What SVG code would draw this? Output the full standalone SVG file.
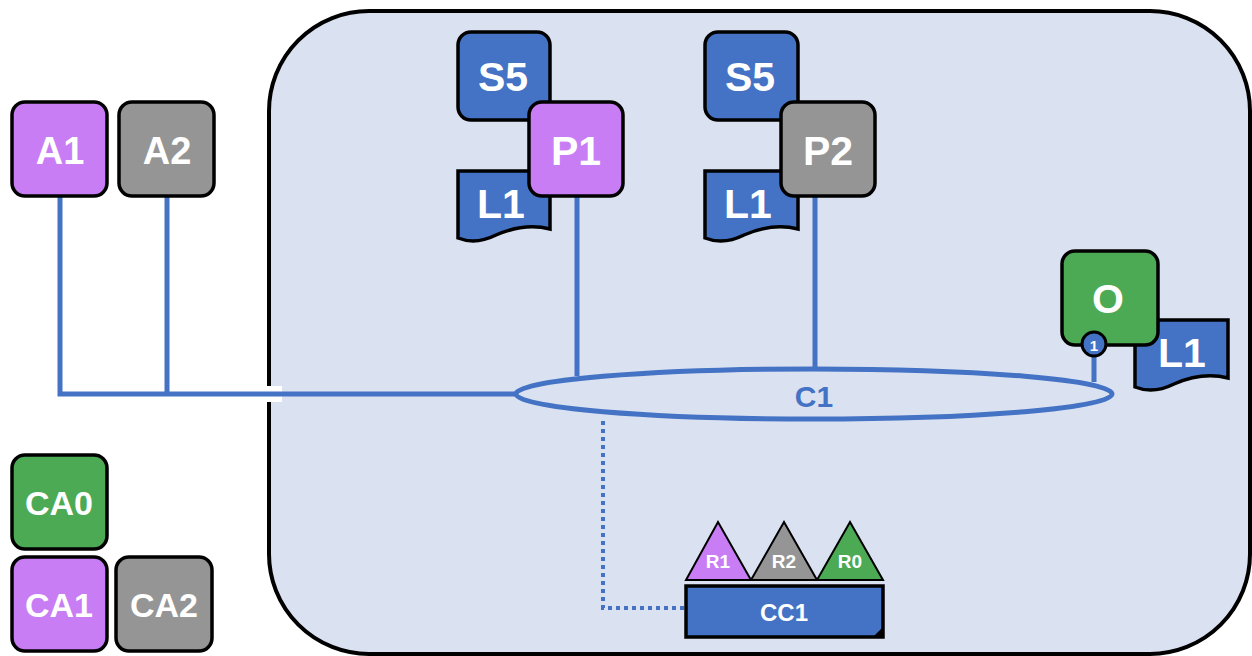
<svg xmlns="http://www.w3.org/2000/svg" width="1252" height="656" viewBox="0 0 1252 656">
<defs>
<style>
.box{stroke:#000;stroke-width:3.5}
.pur{fill:#C87DF5}
.gry{fill:#959595}
.grn{fill:#4CAA55}
.blu{fill:#4472C4}
.lbl{font-family:"Liberation Sans",Arial,sans-serif;font-weight:bold;fill:#fff;text-anchor:middle;dominant-baseline:central}
.wire{stroke:#4472C4;stroke-width:5;fill:none}
</style>
</defs>
<rect width="1252" height="656" fill="#fff"/>
<rect id="container" x="269" y="11" width="981" height="643" rx="100" ry="100" fill="#DAE1F0" stroke="#000" stroke-width="4"/>
<rect x="264" y="386" width="18" height="16" fill="#fff"/>
<g id="connectors">
<path class="wire" d="M60,196 V394 H516"/>
<path class="wire" d="M167,196 V394"/>
<path class="wire" d="M577,196 V376"/>
<path class="wire" d="M815,196 V367"/>
<path class="wire" d="M1094,356 V382"/>
<path d="M603,421 V608 H686" fill="none" stroke="#4472C4" stroke-width="4" stroke-dasharray="4 4"/>
</g>
<g id="C1">
<ellipse cx="814" cy="394" rx="298" ry="25" class="wire" stroke-width="5.5"/>
<text x="814" y="396" class="lbl" style="fill:#4472C4" font-size="30">C1</text>
</g>
<g id="A1"><rect class="box pur" x="12" y="102" width="95" height="94" rx="13"/><text class="lbl" x="60" y="151" font-size="38">A1</text></g>
<g id="A2"><rect class="box gry" x="119" y="102" width="95" height="94" rx="13"/><text class="lbl" x="167" y="151" font-size="38">A2</text></g>
<g id="CA0"><rect class="box grn" x="12" y="455" width="95" height="94" rx="13"/><text class="lbl" x="59" y="503" font-size="34">CA0</text></g>
<g id="CA1"><rect class="box pur" x="12" y="557" width="95" height="94" rx="13"/><text class="lbl" x="59" y="605" font-size="34">CA1</text></g>
<g id="CA2"><rect class="box gry" x="116" y="557" width="96" height="94" rx="13"/><text class="lbl" x="164" y="605" font-size="34">CA2</text></g>
<g id="S5a"><rect class="box blu" x="458" y="32" width="92" height="88" rx="13"/><text class="lbl" x="503" y="77" font-size="41">S5</text></g>
<g id="L1a"><path class="box blu" d="M458,171 H550 V229 C530,224 512,228 496,235 C480,243 468,242 458,238 Z"/><text class="lbl" x="501" y="204" font-size="41">L1</text></g>
<g id="P1"><rect class="box pur" x="529" y="102" width="94" height="94" rx="13"/><text class="lbl" x="576" y="151" font-size="41">P1</text></g>
<g id="S5b"><rect class="box blu" x="705" y="32" width="93" height="88" rx="13"/><text class="lbl" x="750" y="77" font-size="41">S5</text></g>
<g id="L1b"><path class="box blu" d="M705,171 H798 V229 C778,224 760,228 744,235 C728,243 715,242 705,238 Z"/><text class="lbl" x="748" y="204" font-size="41">L1</text></g>
<g id="P2"><rect class="box gry" x="781" y="102" width="94" height="94" rx="13"/><text class="lbl" x="828" y="151" font-size="41">P2</text></g>
<g id="L1c"><path class="box blu" d="M1135,320 H1228 V378 C1208,373 1190,377 1174,384 C1158,392 1145,391 1135,387 Z"/><text class="lbl" x="1182" y="353" font-size="41">L1</text></g>
<g id="O"><rect class="box grn" x="1062" y="251" width="96" height="94" rx="13"/><text class="lbl" x="1108" y="299" font-size="41">O</text>
<circle cx="1094" cy="344" r="12" class="blu" stroke="#000" stroke-width="3"/><text class="lbl" x="1094" y="345" font-size="15">1</text></g>
<g id="CC1">
<rect class="box blu" x="686" y="586" width="197" height="51"/>
<path d="M883,627 L873,637 H883 Z" fill="#000"/>
<text class="lbl" x="784" y="612" font-size="24">CC1</text>
</g>
<g id="R1"><path d="M686,580 L718,522 L751,580 Z" class="pur" stroke="#000" stroke-width="2"/><text class="lbl" x="718" y="561" font-size="19">R1</text></g>
<g id="R2"><path d="M751,580 L784,522 L817,580 Z" class="gry" stroke="#000" stroke-width="2"/><text class="lbl" x="784" y="561" font-size="19">R2</text></g>
<g id="R0"><path d="M817,580 L850,522 L883,580 Z" class="grn" stroke="#000" stroke-width="2"/><text class="lbl" x="850" y="561" font-size="19">R0</text></g>
</svg>
